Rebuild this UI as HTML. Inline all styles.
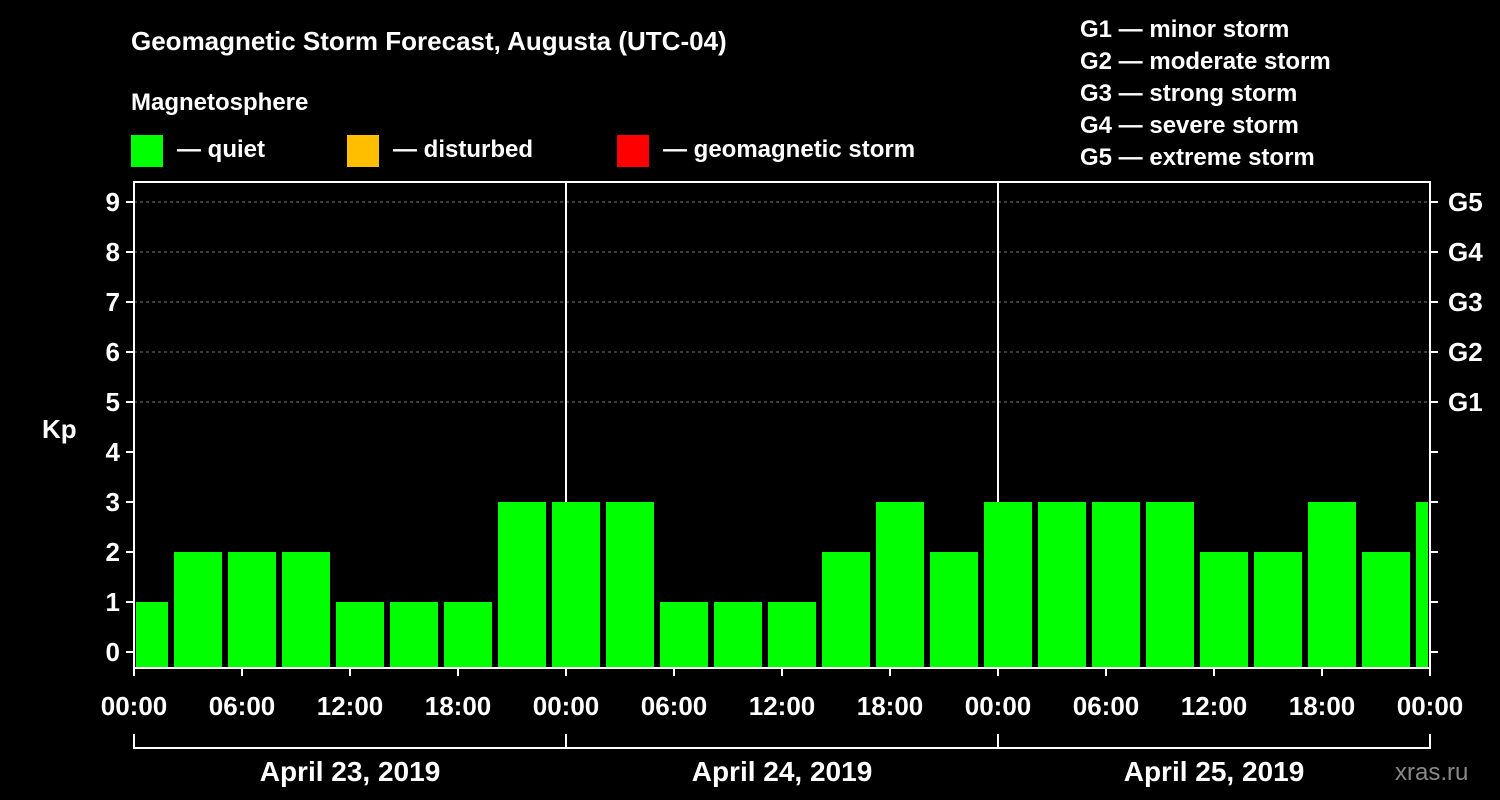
<!DOCTYPE html>
<html><head><meta charset="utf-8"><style>
body{margin:0;background:#000;}
svg{display:block;font-family:"Liberation Sans",Arial,sans-serif;font-weight:bold;}
</style></head><body>
<svg id="chart" width="1500" height="800" viewBox="0 0 1500 800">
<rect width="1500" height="800" fill="#000"/>
<text x="131" y="50" fill="#fff" font-size="26">Geomagnetic Storm Forecast, Augusta (UTC-04)</text>
<text x="131" y="110" fill="#fff" font-size="24">Magnetosphere</text>
<g><rect x="131" y="135" width="32" height="32" fill="#00ff00"/><text x="177" y="157" fill="#fff" font-size="24">— quiet</text></g>
<g><rect x="347" y="135" width="32" height="32" fill="#ffbf00"/><text x="393" y="157" fill="#fff" font-size="24">— disturbed</text></g>
<g><rect x="617" y="135" width="32" height="32" fill="#ff0000"/><text x="663" y="157" fill="#fff" font-size="24">— geomagnetic storm</text></g>
<g fill="#fff" font-size="24">
<text x="1080" y="37">G1 — minor storm</text><text x="1080" y="69">G2 — moderate storm</text><text x="1080" y="101">G3 — strong storm</text><text x="1080" y="133">G4 — severe storm</text><text x="1080" y="165">G5 — extreme storm</text>
</g>
<text x="42" y="438" fill="#fff" font-size="26">Kp</text>
<g id="grid"></g><g id="bars"></g><g id="axes"></g>
<text x="1395" y="780" fill="#888" font-size="24" font-weight="normal">xras.ru</text>
</svg>
<script>
const kpValues=[1,2,2,2,1,1,1,3,3,3,1,1,1,2,3,2,3,3,3,3,2,2,3,2,3];
const barStartHours=[-1,2,5,8,11,14,17,20,23,26,29,32,35,38,41,44,47,50,53,56,59,62,65,68,71];
const yTicks=[0,1,2,3,4,5,6,7,8,9];
const gLabels=["","","","","","G1","G2","G3","G4","G5"];
const xTickLabels=["00:00","06:00","12:00","18:00","00:00","06:00","12:00","18:00","00:00","06:00","12:00","18:00","00:00"];
const dateLabels=["April 23, 2019","April 24, 2019","April 25, 2019"];
const L=134,R=1430,T=182,B=668,totalH=72;
const x=h=>L+(h/totalH)*(R-L);
const y=v=>652-v*50;
const NS="http://www.w3.org/2000/svg";
function mk(parent,tag,attrs,txt){const e=document.createElementNS(NS,tag);for(const k in attrs)e.setAttribute(k,attrs[k]);if(txt!==undefined)e.textContent=txt;document.getElementById(parent).appendChild(e);return e;}
yTicks.forEach(v=>{if(v>=5){const g=mk('grid','line',{x1:L,x2:R,y1:y(v),y2:y(v),stroke:'#777','stroke-dasharray':'3,3'});

}});
[24,48].forEach(h=>{const d=mk('grid','line',{x1:x(h),x2:x(h),y1:T,y2:B,stroke:'#fff','stroke-width':2});

});
kpValues.forEach((v,i)=>{const s=Math.max(0,barStartHours[i]),e=Math.min(totalH,barStartHours[i]+3);
const x0=x(s)+(barStartHours[i]>=0?4:2),x1=x(e)-(barStartHours[i]+3<=totalH?2:2);
const r=mk('bars','rect',{x:x0,y:y(v),width:x1-x0,height:B-y(v),fill:v>=5?'#ff0000':(v>=4?'#ffbf00':'#00ff00')});

});
const frame=mk('axes','rect',{x:L,y:T,width:R-L,height:B-T,fill:'none',stroke:'#fff','stroke-width':2});


yTicks.forEach(v=>{
mk('axes','line',{x1:L-8,x2:L,y1:y(v),y2:y(v),stroke:'#fff','stroke-width':2});
mk('axes','line',{x1:R,x2:R+8,y1:y(v),y2:y(v),stroke:'#fff','stroke-width':2});
const t=mk('axes','text',{x:L-14,y:y(v)+9,fill:'#fff','font-size':26,'text-anchor':'end'},String(v));


if(gLabels[v]){const g=mk('axes','text',{x:R+18,y:y(v)+9,fill:'#fff','font-size':26},gLabels[v]);

}
});
xTickLabels.forEach((lab,i)=>{const xx=x(i*6);
mk('axes','line',{x1:xx,x2:xx,y1:B,y2:B+8,stroke:'#fff','stroke-width':2});
const t=mk('axes','text',{x:xx,y:715,fill:'#fff','font-size':26,'text-anchor':'middle'},lab);

});
mk('axes','line',{x1:L,x2:R,y1:748,y2:748,stroke:'#fff','stroke-width':2});
[0,24,48,72].forEach(h=>mk('axes','line',{x1:x(h),x2:x(h),y1:734,y2:749,stroke:'#fff','stroke-width':2}));
dateLabels.forEach((d,i)=>{const t=mk('axes','text',{x:x(i*24+12),y:781,fill:'#fff','font-size':28,'text-anchor':'middle'},d);

});
</script>
</body></html>
